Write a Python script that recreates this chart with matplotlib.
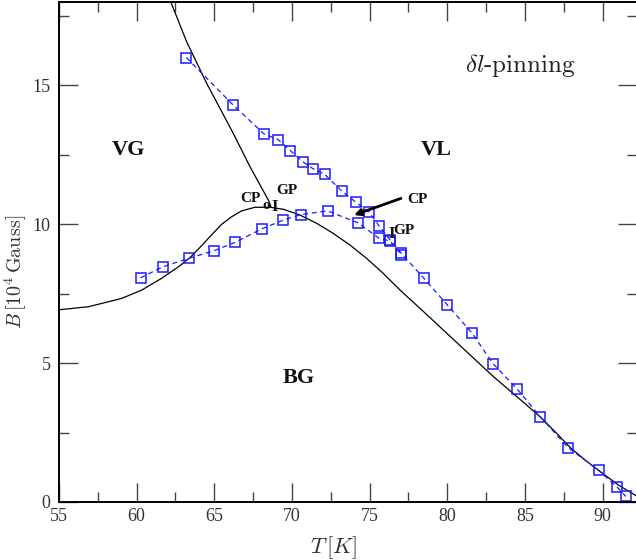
import matplotlib
matplotlib.use("Agg")
import matplotlib.pyplot as plt
from matplotlib.ticker import MultipleLocator

plt.rcParams['mathtext.fontset'] = 'cm'
plt.rcParams['font.family'] = ['Liberation Serif', 'DejaVu Serif']

# phase lines (black)
line1_T = [62.0, 62.15, 63.22, 64.51, 65.37, 66.22, 67.3, 68.48, 68.65]
line1_B = [18.4, 18.07, 16.57, 15.07, 14.17, 13.27, 12.07, 10.87, 10.63]

line2_T = [55.0, 56.9, 59.04, 60.33, 61.6, 62.7, 63.44, 64.19, 64.83, 65.48, 66.12,
           66.76, 67.62, 68.58, 69.44, 70.52, 71.6, 72.66, 73.74, 74.81, 75.88, 76.96,
           78.5, 80.0, 81.5, 83.0, 84.47, 86.0, 87.0, 87.9, 88.9, 89.84, 91.0, 92.3]
line2_B = [6.92, 7.03, 7.33, 7.63, 8.05, 8.47, 8.8, 9.23, 9.62, 10.0, 10.27,
           10.48, 10.61, 10.61, 10.54, 10.33, 10.03, 9.67, 9.25, 8.77, 8.23, 7.63,
           6.84, 6.06, 5.28, 4.5, 3.8, 3.06, 2.5, 1.97, 1.5, 1.1, 0.62, 0.18]

# simulation points (blue squares)
upper_T = [63.2, 66.2, 68.2, 69.1, 69.9, 70.7, 71.35, 72.1, 73.2, 74.1, 74.95, 75.6,
           76.3, 77.0, 78.5, 80.0, 81.6, 82.95, 84.5, 86.0, 87.8, 89.75, 90.95, 91.5]
upper_B = [16.0, 14.3, 13.25, 13.05, 12.65, 12.25, 12.0, 11.8, 11.2, 10.8, 10.45, 9.95,
           9.45, 8.98, 8.05, 7.1, 6.08, 4.98, 4.07, 3.06, 1.95, 1.14, 0.53, 0.2]

lower_T = [60.25, 61.7, 63.4, 65.0, 66.35, 68.05, 69.45, 70.6, 72.3, 74.25, 75.6, 76.3, 77.05]
lower_B = [8.07, 8.47, 8.78, 9.05, 9.35, 9.83, 10.15, 10.35, 10.48, 10.05, 9.5, 9.4, 8.9]

fig = plt.figure(figsize=(6.36, 5.6), dpi=100)
ax = fig.add_axes([59 / 636, 58 / 560, 578 / 636, 500 / 560])

ax.plot(line1_T, line1_B, color='black', lw=0.9)
ax.plot(line2_T, line2_B, color='black', lw=0.9)

for T, B in [(upper_T, upper_B), (lower_T, lower_B)]:
    ax.plot(T, B, color='#1a1aff', ls=(0, (4, 3)), lw=0.9, marker='s', ms=6.5,
            mfc='none', mec='#1a1aff', mew=1.1)

ax.set_xlim(55, 92.22)
ax.set_ylim(0, 18)
ax.xaxis.set_major_locator(MultipleLocator(5))
ax.xaxis.set_minor_locator(MultipleLocator(2.5))
ax.yaxis.set_major_locator(MultipleLocator(5))
ax.yaxis.set_minor_locator(MultipleLocator(2.5))
ax.tick_params(which='both', direction='in', top=True, right=True, color='#444444',
               labelsize=13, labelcolor='#333333')
ax.tick_params(which='major', length=14, width=1.0)
ax.tick_params(which='minor', length=7, width=1.0)
ax.tick_params(axis='x', pad=4)
ax.tick_params(axis='y', pad=6)
for s in ax.spines.values():
    s.set_linewidth(1.4)

ax.set_xlabel(r'$T\,[K]$', fontsize=16, color='#333333')
ax.xaxis.set_label_coords(0.475, -0.065)
ax.set_ylabel(r'$B\,[10^4\,\mathrm{Gauss}]$', fontsize=14.5, color='#333333')
ax.yaxis.set_label_coords(-0.052, 0.46)

bold = dict(fontweight='bold', color='#111111', ha='center', va='center')
ax.text(59.46, 12.69, 'VG', fontsize=16, **bold)
ax.text(79.3, 12.69, 'VL', fontsize=16, **bold)
ax.text(70.42, 4.46, 'BG', fontsize=16, **bold)
ax.text(67.33, 10.94, 'CP', fontsize=11, **bold)
ax.text(69.7, 11.2, 'GP', fontsize=11, **bold)
ax.text(78.1, 10.9, 'CP', fontsize=11, **bold)
ax.text(77.2, 9.79, 'GP', fontsize=11, **bold)
ax.text(68.33, 10.66, 'o', fontsize=11, **bold)
ax.text(68.88, 10.62, 'I', fontsize=12, **bold)
ax.text(76.4, 9.65, 'I', fontsize=12, **bold)

ax.annotate('', xy=(74.0, 10.33), xytext=(77.02, 10.93),
            arrowprops=dict(arrowstyle='-|>', color='black', lw=2.0,
                            mutation_scale=10, shrinkA=0, shrinkB=0))

ax.text(84.68, 15.48, r'$\delta l$-pinning', fontsize=18, ha='center', va='baseline',
        color='#222222', family='cmr10', math_fontfamily='cm')

fig.savefig('out.png', dpi=100)
